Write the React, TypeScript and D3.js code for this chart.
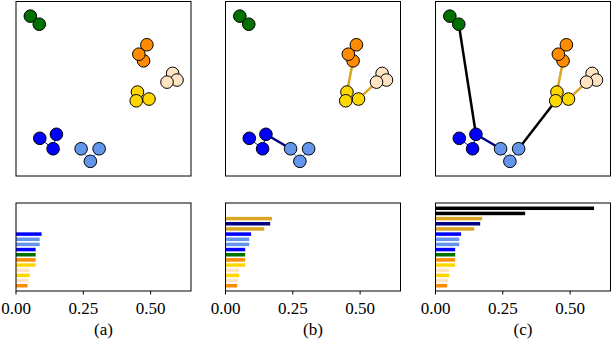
import * as d3 from "d3";

// point positions (relative data units) and cluster colours
const pointX = [0.082, 0.133, 0.748, 0.702, 0.729, 0.895, 0.92, 0.863, 0.694, 0.76, 0.687, 0.231, 0.136, 0.212, 0.372, 0.475, 0.425];
const pointY = [0.916, 0.87, 0.752, 0.698, 0.66, 0.588, 0.55, 0.538, 0.481, 0.441, 0.431, 0.239, 0.216, 0.156, 0.156, 0.156, 0.084];
const pointColor = [
  "#007000", "#007000",
  "#ff8c00", "#ff8c00", "#ff8c00",
  "#ffe4c4", "#ffe4c4", "#ffe4c4",
  "#ffd700", "#ffd700", "#ffd700",
  "#0000ff", "#0000ff", "#0000ff",
  "#6495ed", "#6495ed", "#6495ed",
];
// draw order so overlaps look right
const drawOrder = [0, 1, 2, 4, 3, 5, 6, 7, 8, 9, 10, 11, 12, 13, 14, 15, 16];

// edges: from, to, colour, first panel where shown
const edgeFrom = [0, 2, 3, 5, 6, 8, 9, 11, 12, 14, 15, 11, 4, 9, 1, 15];
const edgeTo = [1, 3, 4, 6, 7, 10, 10, 13, 13, 16, 16, 14, 8, 7, 11, 10];
const edgeColor = [
  "#007000", "#ff8c00", "#ff8c00", "#ffe4c4", "#ffe4c4", "#ffd700", "#ffd700",
  "#0000ff", "#0000ff", "#6495ed", "#6495ed", "#000080", "#daa520", "#daa520", "#000000", "#000000",
];
const edgePanel = [0, 0, 0, 0, 0, 0, 0, 0, 0, 0, 0, 1, 1, 1, 2, 2];
const edgeWidth = [1, 1, 1, 1, 1, 1, 1, 1, 1, 1, 1, 2.5, 2.5, 2.5, 2.5, 2.5];

// bar chart of merge lengths (top to bottom)
const barValues = [0.589, 0.333, 0.173, 0.166, 0.144, 0.095, 0.088, 0.088, 0.073, 0.073, 0.073, 0.073, 0.051, 0.051, 0.047, 0.043];
const barColors = [
  "#000000", "#000000", "#daa520", "#000080", "#daa520", "#0000ff", "#6495ed", "#6495ed",
  "#0000ff", "#007000", "#ff8c00", "#ffd700", "#ffe4c4", "#ffd700", "#ffe4c4", "#ff8c00",
];
const barsFrom = [5, 2, 0]; // first bar index shown in each panel
const ticks = [0, 0.25, 0.5];
const captions = ["(a)", "(b)", "(c)"];

const panelLeft = [16, 225.5, 435.5];
const panelW = 175;
const topY0 = 1.5, topY1 = 176;
const botY0 = 203, botY1 = 291;
const serif = "Liberation Serif, Times New Roman, serif";

function Panel({ k }: { k: number }) {
  const left = panelLeft[k];
  const x = d3.scaleLinear().domain([0, 1]).range([left, left + panelW]);
  const y = d3.scaleLinear().domain([0, 1]).range([topY1, topY0]);
  const bx = d3.scaleLinear().domain([0, 0.65]).range([left, left + panelW]);
  const by = d3.scaleBand<number>()
    .domain(d3.range(barValues.length))
    .range([205.7, 288.3])
    .paddingInner(0.32)
    .paddingOuter(0.16);

  const edges = d3.range(edgeFrom.length).filter(i => edgePanel[i] <= k);
  const bars = d3.range(barsFrom[k], barValues.length);

  return (
    <g>
      {/* scatter */}
      <g>
        {edges.map(i => (
          <line
            key={i}
            x1={x(pointX[edgeFrom[i]])}
            y1={y(pointY[edgeFrom[i]])}
            x2={x(pointX[edgeTo[i]])}
            y2={y(pointY[edgeTo[i]])}
            stroke={edgeColor[i]}
            strokeWidth={edgeWidth[i]}
          />
        ))}
        {drawOrder.map(i => (
          <circle
            key={i}
            cx={x(pointX[i])}
            cy={y(pointY[i])}
            r={6.3}
            fill={pointColor[i]}
            stroke="#000"
            strokeWidth={1}
          />
        ))}
        <rect x={left} y={topY0} width={panelW} height={topY1 - topY0} fill="none" stroke="#000" strokeWidth={1} />
      </g>

      {/* bars */}
      <g>
        {bars.map(i => (
          <rect
            key={i}
            x={bx(0)}
            y={by(i)}
            width={bx(barValues[i]) - bx(0)}
            height={by.bandwidth()}
            fill={barColors[i]}
          />
        ))}
        <rect x={left} y={botY0} width={panelW} height={botY1 - botY0} fill="none" stroke="#000" strokeWidth={1} />
        {ticks.map(t => (
          <g key={t}>
            <line x1={bx(t)} x2={bx(t)} y1={botY1} y2={botY1 + 3.5} stroke="#000" strokeWidth={1} />
            <text
              x={bx(t)}
              y={314}
              textAnchor="middle"
              fontFamily={serif}
              fontSize={17}
            >
              {t.toFixed(2)}
            </text>
          </g>
        ))}
        <text
          x={left + panelW / 2}
          y={335}
          textAnchor="middle"
          fontFamily={serif}
          fontSize={17}
        >
          {captions[k]}
        </text>
      </g>
    </g>
  );
}

export default function App() {
  return (
    <svg
      width={612}
      height={340}
      style={{ position: "absolute", left: 0, top: 0, background: "#fff" }}
    >
      {[0, 1, 2].map(k => (
        <Panel key={k} k={k} />
      ))}
    </svg>
  );
}
